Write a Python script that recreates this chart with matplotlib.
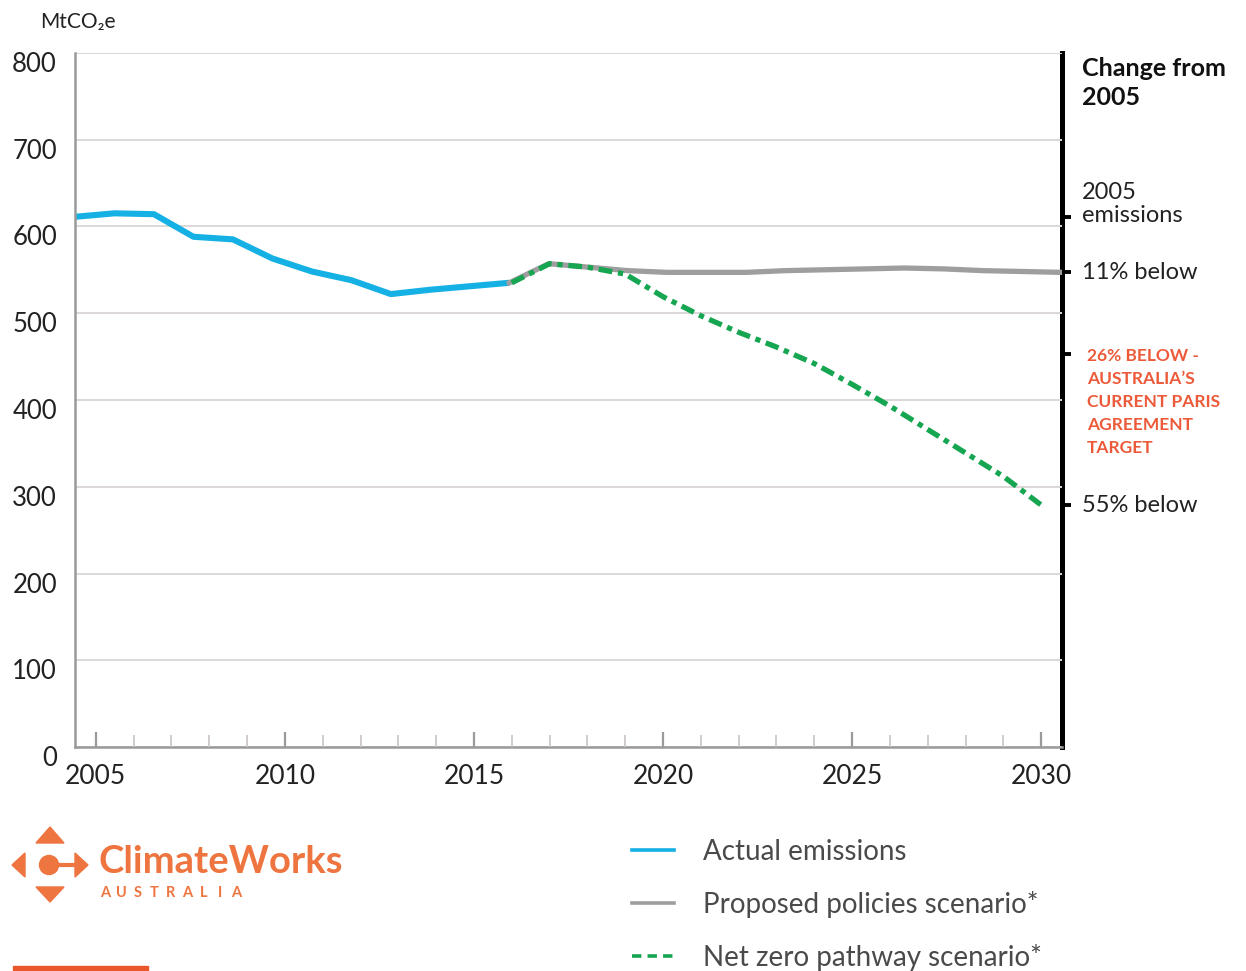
import matplotlib
matplotlib.use('Agg')
import matplotlib.pyplot as plt
import matplotlib.transforms as mtransforms
from matplotlib.lines import Line2D
from matplotlib.patches import Polygon, Circle, Rectangle

plt.rcParams['font.family'] = ['Lato', 'DejaVu Sans']

# ---------------- data ----------------
actual_years = list(range(2005, 2017))
actual_values = [611, 615, 614, 588, 585, 563, 548, 538, 522, 527, 531, 535]

policy_years = list(range(2016, 2031))
policy_values = [535, 557, 553, 549, 547, 547, 547, 549, 550, 551, 552, 551, 549, 548, 547]

netzero_years = list(range(2016, 2031))
netzero_values = [535, 557, 553, 545, 519, 497, 478, 461, 442, 418, 393, 366, 339, 312, 279]

y_ticks = [0, 100, 200, 300, 400, 500, 600, 700, 800]
x_major_ticks = [2005, 2010, 2015, 2020, 2025, 2030]
x_minor_ticks = list(range(2005, 2031))

ref_values = [611, 547, 453, 279]
ref_labels = ["2005\nemissions", "11% below",
              "26% BELOW -\nAUSTRALIA\u2019S\nCURRENT PARIS\nAGREEMENT\nTARGET",
              "55% below"]

legend_labels = ["Actual emissions", "Proposed policies scenario*", "Net zero pathway scenario*"]

# ---------------- colours ----------------
BLUE = '#15b0e4'
GREY = '#9e9e9e'
GREEN = '#16a651'
RED = '#ec5a3a'
ORANGE = '#ee7440'
GRID = '#dcd7d7'
SPINE = '#9a9a9a'

W, H = 1246, 971
fig = plt.figure(figsize=(W / 100, H / 100), dpi=100)

left, right, top, bottom = 75, 1062, 52.7, 747.3
ax = fig.add_axes([left / W, 1 - bottom / H, (right - left) / W, (bottom - top) / H])
ax.set_xlim(2005, 2030)
ax.set_ylim(0, 800)
ax.set_yticks(y_ticks)
ax.set_yticklabels([str(v) for v in y_ticks])
ax.yaxis.grid(True, color=GRID, lw=1.4)
ax.set_axisbelow(True)
ax.set_xticks([])
ax.tick_params(axis='y', length=0, labelsize=18.5, labelcolor='#222222', pad=13)
off = mtransforms.ScaledTranslation(0, -9 / 100, fig.dpi_scale_trans)
for lab in ax.get_yticklabels():
    lab.set_transform(lab.get_transform() + off)
for s in ['top', 'right']:
    ax.spines[s].set_visible(False)
ax.spines['left'].set_color(SPINE)
ax.spines['left'].set_linewidth(1.8)
ax.spines['bottom'].set_color(SPINE)
ax.spines['bottom'].set_linewidth(1.8)

ax.plot(actual_years, actual_values, color=BLUE, lw=4.4, solid_joinstyle='round', solid_capstyle='butt')
ax.plot(policy_years, policy_values, color=GREY, lw=3.8, solid_joinstyle='round')

# year axis (tick years) + net zero pathway
axy = ax.twiny()
axy.set_xlim(2004.45, 2030.55)
axy.xaxis.set_ticks_position('bottom')
axy.set_xticks(x_major_ticks)
axy.set_xticklabels([str(v) for v in x_major_ticks])
axy.set_xticks(x_minor_ticks, minor=True)
axy.tick_params(axis='x', which='major', direction='in', length=11, width=1.6,
                color=SPINE, labelsize=19, labelcolor='#222222', pad=12,
                bottom=True, top=False, labelbottom=True, labeltop=False)
axy.tick_params(axis='x', which='minor', direction='in', length=8.5, width=1.2,
                color='#c8c4c4', bottom=True, top=False)
for s in axy.spines.values():
    s.set_visible(False)
axy.plot(netzero_years, netzero_values, color=GREEN, lw=3.8, dashes=(2.6, 1.1, 1.0, 1.1))

# right reference axis
sec = ax.secondary_yaxis('right')
sec.set_yticks(ref_values)
sec.set_yticklabels([''] * len(ref_values))
sec.tick_params(axis='y', direction='out', length=6.5, width=2.8, color='black')
sec.spines['right'].set_color('black')
sec.spines['right'].set_linewidth(3.6)

styles = [
    dict(color='#222222', fontsize=17, va='center', dy=9, dx=14.5, linespacing=1.1, weight='normal'),
    dict(color='#222222', fontsize=17, va='center', dy=0, dx=14.5, linespacing=1.0, weight='normal'),
    dict(color=RED, fontsize=12.5, va='top', dy=4.5, dx=18, linespacing=1.55, weight='bold'),
    dict(color='#222222', fontsize=17, va='center', dy=0, dx=14.5, linespacing=1.0, weight='normal'),
]
for val, lab, st in zip(ref_values, ref_labels, styles):
    ax.annotate(lab, xy=(1, val), xycoords=('axes fraction', 'data'),
                xytext=(st['dx'], st['dy']), textcoords='offset points',
                ha='left', va=st['va'], color=st['color'], fontsize=st['fontsize'],
                linespacing=st['linespacing'], weight=st['weight'], annotation_clip=False)

fig.text(1082 / W, 1 - 57 / H, "Change from\n2005", ha='left', va='top',
         fontsize=18, weight='bold', color='#111111', linespacing=1.32)
fig.text(40 / W, 1 - 22 / H, "MtCO\u2082e", ha='left', va='center', fontsize=15, color='#222222')

# legend
handles = [Line2D([], [], color=BLUE, lw=2.6),
           Line2D([], [], color=GREY, lw=2.6),
           Line2D([], [], color=GREEN, lw=2.6, dashes=(2.6, 1.7))]
leg = fig.legend(handles, legend_labels, loc='upper left',
                 bbox_to_anchor=(632 / W, 1 - 839 / H), bbox_transform=fig.transFigure,
                 frameon=False, fontsize=20, handlelength=1.5, handletextpad=1.05,
                 labelspacing=0.93, borderaxespad=0, borderpad=0)
for t in leg.get_texts():
    t.set_color('#4a4a4a')

# logo overlay
axo = fig.add_axes([0, 0, 1, 1], zorder=-1)
axo.set_xlim(0, W)
axo.set_ylim(H, 0)
axo.axis('off')
axo.add_patch(Polygon([(36, 843), (64, 843), (50, 827)], closed=True, color=ORANGE))
axo.add_patch(Polygon([(36, 887), (64, 887), (50, 902)], closed=True, color=ORANGE))
axo.add_patch(Polygon([(25, 853), (25, 877), (12, 865)], closed=True, color=ORANGE))
axo.add_patch(Polygon([(75, 853), (75, 877), (88, 865)], closed=True, color=ORANGE))
axo.add_patch(Circle((49, 865), 9.5, color=ORANGE))
axo.plot([49, 78], [865, 865], color=ORANGE, lw=3)
axo.text(99, 862, "ClimateWorks", ha='left', va='center', fontsize=27.5, weight='bold', color=ORANGE)
for i, ch in enumerate("AUSTRALIA"):
    axo.text(105 + i * 16.4, 893, ch, ha='center', va='center', fontsize=10.5,
             weight='bold', color=ORANGE)
axo.add_patch(Rectangle((13, 966), 135, 6, color='#e8582b'))

fig.savefig('out.png', dpi=100)
